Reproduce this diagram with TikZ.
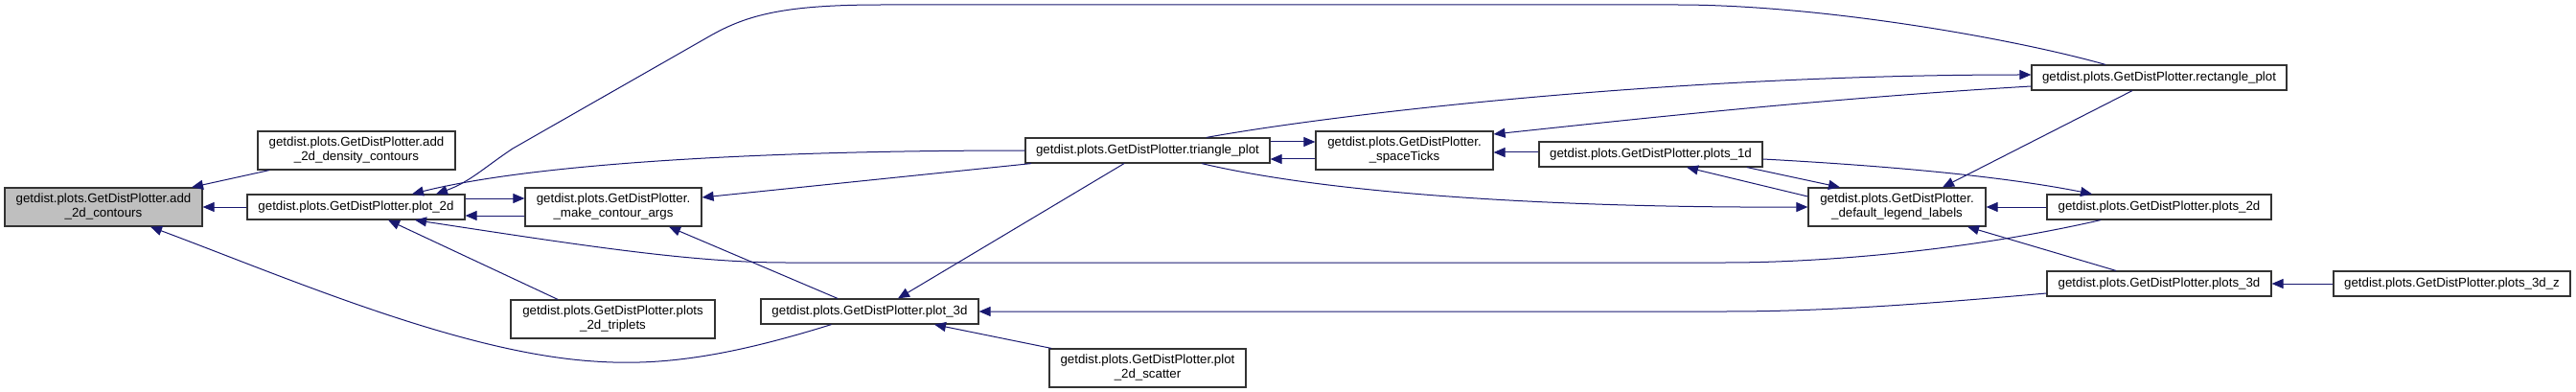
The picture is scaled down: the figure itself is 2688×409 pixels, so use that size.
\documentclass[tikz,border=0pt]{standalone}
\usepackage{fontspec}
\setmainfont{Liberation Sans}
\usetikzlibrary{arrows.meta}
\definecolor{callline}{HTML}{191970}
\definecolor{curfn}{HTML}{BFBFBF}
\definecolor{boxline}{HTML}{333333}

\begin{document}
\begin{tikzpicture}[x=1pt, y=-1pt, >={Triangle[length=12pt,width=10pt]},
  fn/.style={draw=boxline, line width=1.2pt, fill=white, inner sep=0pt, align=center,
    font=\fontsize{13.3}{15}\selectfont},
  call/.style={->, draw=callline, line width=1pt}]
  \useasboundingbox (0,0) rectangle (2688,409);
  % function boxes
  \node[fn, fill=curfn, minimum width=206pt, minimum height=40pt] (a2c) at (108,216)
    {getdist.plots.GetDistPlotter.add\\\_2d\_contours};
  \node[fn, minimum width=206pt, minimum height=40pt] (a2dc) at (372,157)
    {getdist.plots.GetDistPlotter.add\\\_2d\_density\_contours};
  \node[fn, minimum width=227pt, minimum height=26pt] (p2d) at (371.5,216)
    {getdist.plots.GetDistPlotter.plot\_2d};
  \node[fn, minimum width=184pt, minimum height=40pt] (mca) at (640,216)
    {getdist.plots.GetDistPlotter.\\\_make\_contour\_args};
  \node[fn, minimum width=213pt, minimum height=40pt] (p2t) at (639.5,333)
    {getdist.plots.GetDistPlotter.plots\\\_2d\_triplets};
  \node[fn, minimum width=255pt, minimum height=26pt] (tri) at (1197.5,157)
    {getdist.plots.GetDistPlotter.triangle\_plot};
  \node[fn, minimum width=227pt, minimum height=26pt] (p3d) at (907.5,325)
    {getdist.plots.GetDistPlotter.plot\_3d};
  \node[fn, minimum width=205pt, minimum height=40pt] (p2s) at (1197.5,384)
    {getdist.plots.GetDistPlotter.plot\\\_2d\_scatter};
  \node[fn, minimum width=185pt, minimum height=40pt] (stk) at (1465.5,157)
    {getdist.plots.GetDistPlotter.\\\_spaceTicks};
  \node[fn, minimum width=233pt, minimum height=26pt] (p1d) at (1722.5,161)
    {getdist.plots.GetDistPlotter.plots\_1d};
  \node[fn, minimum width=185pt, minimum height=40pt] (dll) at (1979.5,216)
    {getdist.plots.GetDistPlotter.\\\_default\_legend\_labels};
  \node[fn, minimum width=266pt, minimum height=26pt] (rect) at (2253,81)
    {getdist.plots.GetDistPlotter.rectangle\_plot};
  \node[fn, minimum width=234pt, minimum height=26pt] (ps2d) at (2253,216)
    {getdist.plots.GetDistPlotter.plots\_2d};
  \node[fn, minimum width=234pt, minimum height=26pt] (ps3d) at (2253,296)
    {getdist.plots.GetDistPlotter.plots\_3d};
  \node[fn, minimum width=247pt, minimum height=26pt] (ps3z) at (2558.5,296)
    {getdist.plots.GetDistPlotter.plots\_3d\_z};
  % calls into add_2d_contours
  \draw[call] ([xshift=-91pt]a2dc.south) -- ([xshift=92pt]a2c.north);
  \draw[call] (p2d.west) -- (a2c.east);
  \draw[call] ([xshift=-40pt]p3d.south) .. controls (760,372) and (690,382) .. (620,377)
    .. controls (480,368) and (300,290) .. ([xshift=49pt]a2c.south);
  % calls into plot_2d
  \draw[call] ([yshift=9pt]p2d.east) -- ([yshift=9pt]mca.west);
  \draw[call] ([yshift=-9pt]mca.west) -- ([yshift=-9pt]p2d.east);
  \draw[call] ([xshift=-56pt]rect.north) .. controls (2100,40) and (1900,5) .. (1750,5) -- (920,5)
    .. controls (820,5) and (780,15) .. (740,38) -- (535,155)
    .. controls (505,175) and (490,190) .. ([xshift=83.5pt]p2d.north);
  \draw[call] (tri.west) .. controls (800,157) and (560,170) .. ([xshift=58.5pt]p2d.north);
  \draw[call] ([xshift=-61pt]ps2d.south) .. controls (2050,262) and (1900,274) .. (1800,274) -- (820,274)
    .. controls (720,274) and (600,255) .. ([xshift=61.5pt]p2d.south);
  \draw[call] ([xshift=-57.5pt]p2t.north) -- ([xshift=33.5pt]p2d.south);
  % calls into _make_contour_args and plot_3d
  \draw[call] ([xshift=-121.5pt]tri.south) -- ([yshift=10pt]mca.east);
  \draw[call] ([xshift=-33.5pt]p3d.north) -- ([xshift=58pt]mca.south);
  \draw[call] ([xshift=-24.5pt]tri.south) -- ([xshift=29.5pt]p3d.north);
  \draw[call] ([xshift=-100.5pt]p2s.north) -- ([xshift=67.5pt]p3d.south);
  \draw[call] ([yshift=-10pt]ps3d.west) .. controls (2000,318) and (1900,325) .. (1800,325) -- (p3d.east);
  % triangle_plot, _spaceTicks, rectangle_plot
  \draw[call] ([yshift=9pt]tri.east) -- ([yshift=9pt]stk.west);
  \draw[call] ([yshift=-9pt]stk.west) -- ([yshift=-9pt]tri.east);
  \draw[call] ([xshift=61.5pt]tri.north) .. controls (1400,118) and (1750,78) .. ([yshift=3pt]rect.west);
  \draw[call] ([yshift=-9pt]rect.west) .. controls (1900,103) and (1700,125) .. ([yshift=17pt]stk.east);
  \draw[call] ([yshift=2pt]p1d.west) -- ([yshift=-2pt]stk.east);
  % _default_legend_labels and the plots_* family
  \draw[call] ([xshift=100.5pt]p1d.south) -- ([xshift=-59.5pt]dll.north);
  \draw[call] ([yshift=11pt]dll.west) -- ([xshift=37.5pt]p1d.south);
  \draw[call] ([xshift=56.5pt]tri.south) .. controls (1400,205) and (1650,217) .. (dll.west);
  \draw[call] ([yshift=-5pt]p1d.east) .. controls (1950,172) and (2080,182) .. ([xshift=-70pt]ps2d.north);
  \draw[call] ([xshift=-28pt]rect.south) -- ([xshift=47.5pt]dll.north);
  \draw[call] (ps2d.west) -- (dll.east);
  \draw[call] ([xshift=-45pt]ps3d.north) -- ([xshift=73.5pt]dll.south);
  \draw[call] (ps3z.west) -- (ps3d.east);
\end{tikzpicture}
\end{document}
